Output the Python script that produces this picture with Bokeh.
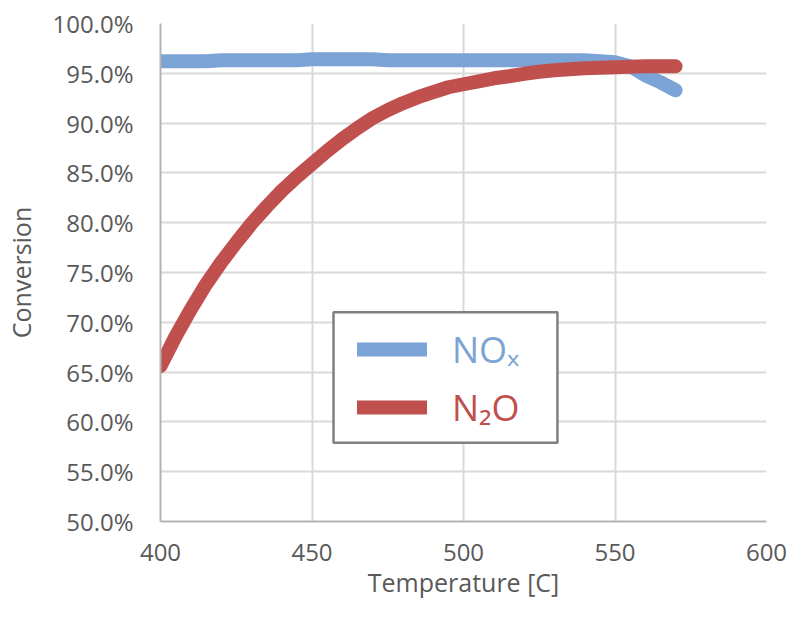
import numpy as np
from bokeh.plotting import figure
from bokeh.models import (Legend, LegendItem, FixedTicker, NumeralTickFormatter,
                          BoxAnnotation, Range1d)
from bokeh.embed import file_html
from bokeh.resources import INLINE

# ---- data ----
temperature = [400, 405, 410, 415, 420, 425, 430, 435, 440, 445, 450, 455, 460, 465,
               470, 475, 480, 485, 490, 495, 500, 505, 510, 515, 520, 525, 530, 535,
               540, 545, 550, 555, 560, 565, 570]
nox_pct = [96.2, 96.2, 96.2, 96.2, 96.3, 96.3, 96.3, 96.3, 96.3, 96.3, 96.4, 96.4, 96.4,
           96.4, 96.4, 96.3, 96.3, 96.3, 96.3, 96.3, 96.3, 96.3, 96.3, 96.3, 96.3, 96.3,
           96.3, 96.3, 96.3, 96.2, 96.1, 95.7, 94.8, 94.1, 93.3]
n2o_pct = [65.6, 68.6, 71.3, 73.8, 76.0, 78.0, 79.9, 81.6, 83.2, 84.6, 85.9, 87.2, 88.4,
           89.5, 90.5, 91.3, 92.0, 92.6, 93.1, 93.6, 93.9, 94.2, 94.5, 94.7, 94.95, 95.15,
           95.3, 95.4, 95.5, 95.55, 95.6, 95.65, 95.7, 95.7, 95.7]
x_ticks = [400, 450, 500, 550, 600]
y_ticks_pct = [50, 55, 60, 65, 70, 75, 80, 85, 90, 95, 100]
series_names = ["NOₓ", "N₂O"]
x_title = "Temperature [C]"
y_title = "Conversion"

BLUE = "#7ca3d5"
RED = "#c0504d"
TXT = "#595959"
FONT = "Open Sans"
LEGEND_FONT = "'Open Sans', 'Noto Sans', 'DejaVu Sans', sans-serif"

nox = np.array(nox_pct) / 100.0
n2o = np.array(n2o_pct) / 100.0

p = figure(width=787, height=605, output_backend="svg", toolbar_location=None,
           x_range=Range1d(400, 600), y_range=Range1d(0.5, 1.0),
           min_border_left=160, min_border_right=21, min_border_top=23,
           min_border_bottom=84)
p.outline_line_color = None
p.background_fill_color = "white"
p.border_fill_color = "white"

r_nox = p.line(temperature, nox, line_width=14, line_color=BLUE,
               line_cap="round", line_join="round")
r_n2o = p.line(temperature, n2o, line_width=14, line_color=RED,
               line_cap="round", line_join="round")

# axes
p.xaxis.ticker = FixedTicker(ticks=x_ticks)
p.yaxis.ticker = FixedTicker(ticks=[v / 100.0 for v in y_ticks_pct])
p.yaxis.formatter = NumeralTickFormatter(format="0.0%")
for ax in (p.xaxis[0], p.yaxis[0]):
    ax.major_tick_line_color = None
    ax.minor_tick_line_color = None
    ax.axis_line_color = "#b3b3b3"
    ax.axis_line_width = 2
    ax.major_label_text_font = FONT
    ax.major_label_text_font_size = "24px"
    ax.major_label_text_color = TXT
    ax.axis_label_text_font = FONT
    ax.axis_label_text_font_size = "25px"
    ax.axis_label_text_font_style = "normal"
    ax.axis_label_text_color = TXT
p.xaxis.axis_label = x_title
p.yaxis.axis_label = y_title
p.yaxis.major_label_standoff = 21
p.yaxis.axis_label_standoff = 11
p.xaxis.major_label_standoff = 16
p.xaxis.axis_label_standoff = 1
p.xaxis.axis_label_text_line_height = 0.6
p.xaxis.major_label_text_line_height = 0.8

p.grid.grid_line_color = "#d9d9d9"
p.grid.grid_line_width = 2

# legend frame
frame = BoxAnnotation(left=457.1, right=531.0, top=0.710, bottom=0.579,
                      fill_color="white", fill_alpha=1.0,
                      line_color="#808080", line_width=2.5, line_alpha=1.0)
p.add_layout(frame)

def make_legend(label, renderer, color, loc):
    return Legend(items=[LegendItem(label=label, renderers=[renderer])],
                  location=loc, padding=0, margin=0, spacing=0,
                  glyph_width=70, glyph_height=60, label_height=60,
                  label_standoff=25, label_text_font=LEGEND_FONT,
                  label_text_font_size="36px", label_text_color=color,
                  background_fill_alpha=0, border_line_alpha=0)

p.add_layout(make_legend(series_names[0], r_nox, BLUE, (197, 142)))
p.add_layout(make_legend(series_names[1], r_n2o, RED, (197, 84)))

open("out.html", "w").write(file_html(p, INLINE))
